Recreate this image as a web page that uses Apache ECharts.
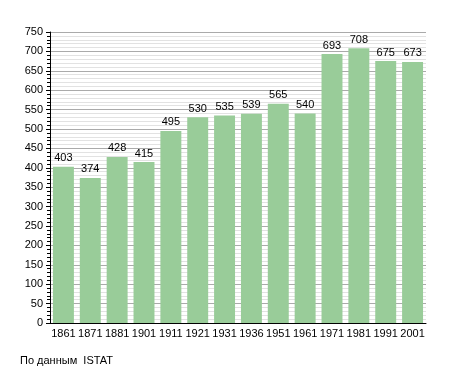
<!DOCTYPE html>
<html><head><meta charset="utf-8">
<script src="https://cdn.jsdelivr.net/npm/echarts@6/dist/echarts.min.js"></script>
<style>html,body{margin:0;padding:0;background:#fff}#c{width:455px;height:373px}</style>
</head><body><div id="c"></div>
<script>
const years = ['1861','1871','1881','1901','1911','1921','1931','1936','1951','1961','1971','1981','1991','2001'];
const population = [403,374,428,415,495,530,535,539,565,540,693,708,675,673];
const yMin = 0, yMax = 750, yStep = 50;
const sourceText = 'По данным  ISTAT';

const chart = echarts.init(document.getElementById('c'), null, {renderer:'canvas'});
chart.setOption({
  animation:false,
  backgroundColor:'#fff',
  textStyle:{fontFamily:'Liberation Sans, Arial, sans-serif'},
  grid:{left:50,right:29,top:32,bottom:50,containLabel:false},
  graphic:[{type:'text',left:20,top:355,style:{text:sourceText,fontSize:11,fill:'#000',fontFamily:'Liberation Sans, Arial, sans-serif'}}],
  xAxis:{type:'category',data:years,
    axisLine:{lineStyle:{color:'#000',width:1}},
    axisTick:{show:false},
    axisLabel:{color:'#000',fontSize:11,margin:5,interval:0}},
  yAxis:{type:'value',min:yMin,max:yMax,interval:yStep,
    axisLine:{show:true,lineStyle:{color:'#000',width:1}},
    axisTick:{show:true,length:4,lineStyle:{color:'#000'}},
    minorTick:{show:true,splitNumber:5,length:3,lineStyle:{color:'#000'}},
    splitLine:{show:true,lineStyle:{color:'#aaaaaa',width:1}},
    minorSplitLine:{show:true,lineStyle:{color:'#e2e2e2',width:1}},
    axisLabel:{color:'#000',fontSize:11,margin:7}},
  series:[{type:'bar',data:population,barWidth:'78%',
    itemStyle:{color:'#99cc99'},
    label:{show:true,position:'top',color:'#000',fontSize:11,distance:3}}]
});
</script></body></html>
